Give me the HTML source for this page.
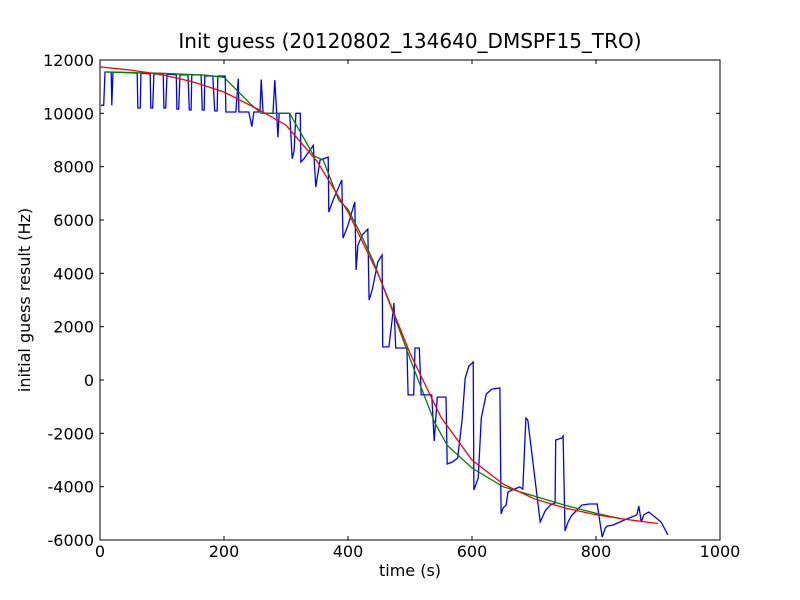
<!DOCTYPE html>
<html><head><meta charset="utf-8"><style>
body{margin:0;background:#fff}
svg{display:block;font-family:"DejaVu Sans","Liberation Sans",sans-serif}
</style></head><body>
<svg id="chart" width="800" height="600"></svg>
<script>
const xTicks=[0,200,400,600,800,1000];
const yTicks=[-6000,-4000,-2000,0,2000,4000,6000,8000,10000,12000];
const blueT=[1.6,6,8,18,19,21,60,61,65,66,81,82,85,87,102,103,106,108,123,124,127,129,142,144,147,148,163,165,168,169,182,185,189,190,202,203,219,223,224,240,245,248,258,260,263,279,282,285,287,289,306,310,313,316,323,324,329,344,348,355,368,369,376,390,392,400,411,413,416,423,432,434,439,448,455,456,466,473,474,477,495,497,506,508,515,518,535,539,544,558,560,568,577,584,589,595,602,603,610,615,623,632,645,647,650,655,658,665,677,682,687,690,710,718,726,734,735,745,747,750,755,760,777,789,802,810,815,818,827,850,866,869,873,877,885,905,916];
const blueV=[10300,10300,11550,11550,10300,11550,11510,10200,10200,11500,11480,10200,10200,11480,11470,10200,10200,11470,11440,10160,10160,11440,11440,10125,10125,11440,11440,10125,10125,11400,11400,10090,10090,11400,11400,10050,10050,11300,10050,10050,9500,10050,10050,11270,10000,10000,11250,10000,9100,10000,10000,8300,8600,10000,10000,8175,8300,8800,7240,8250,8360,6300,6750,7500,5320,5800,6680,4125,5060,5440,5660,3000,3375,4425,4690,1240,1240,2625,2890,1200,1200,-560,-560,1200,1200,-560,-560,-2290,-640,-640,-3150,-3075,-2925,-1500,75,525,675,-4125,-3675,-1425,-525,-340,-300,-5025,-4800,-4690,-4200,-4125,-4010,-4090,-1425,-1500,-5325,-4910,-4690,-4610,-2250,-2175,-2100,-5660,-5325,-5100,-4690,-4650,-4650,-5890,-5550,-5475,-5440,-5210,-5060,-4725,-5325,-5060,-4950,-5325,-5810];
const greenT=[8,100,170,200,245,260,306,345,360,385,400,420,440,470,500,540,560,600,650,700,750,800,840];
const greenV=[11550,11500,11430,11350,10300,10000,10000,8400,8250,6750,6400,5500,4500,2700,800,-1600,-2450,-3300,-4000,-4350,-4700,-5000,-5200];
const redT=[0,50,100,150,200,255,300,350,400,450,500,550,600,650,700,750,800,850,900];
const redV=[11740,11620,11450,11180,10800,10150,9560,8200,6300,3900,1000,-1400,-3000,-3900,-4450,-4800,-5050,-5230,-5380];
const L=100,R=720,T=60,B=540;
const xs=v=>L+(v-0)/1000*(R-L);
const ys=v=>B-(v+6000)/18000*(B-T);
const svg=document.getElementById('chart');
const NS='http://www.w3.org/2000/svg';
function mk(tag,attrs,parent){const e=document.createElementNS(NS,tag);for(const k in attrs)e.setAttribute(k,attrs[k]);(parent||svg).appendChild(e);return e;}
function line(ts,vs,color,name){
  const p=mk('polyline',{points:ts.map((t,i)=>xs(t).toFixed(1)+','+ys(vs[i]).toFixed(1)).join(' '),fill:'none',stroke:color,'stroke-width':1.3});
  
  
}
const bg=mk('rect',{x:L,y:T,width:R-L,height:B-T,fill:'#fff'});


line(blueT,blueV,'#0000ff','blue-series');
line(greenT,greenV,'#008000','green-series');
line(redT,redV,'#ff0000','red-series');
const fr=mk('rect',{x:L,y:T,width:R-L,height:B-T,fill:'none',stroke:'#000','stroke-width':1});


xTicks.forEach(v=>{const x=xs(v);
  mk('line',{x1:x,y1:B,x2:x,y2:B-4,stroke:'#000'});mk('line',{x1:x,y1:T,x2:x,y2:T+4,stroke:'#000'});
  const t=mk('text',{x:x,y:B+17,'text-anchor':'middle','font-size':16});t.textContent=v;
  
  });
yTicks.forEach(v=>{const y=ys(v);
  mk('line',{x1:L,y1:y,x2:L+4,y2:y,stroke:'#000'});mk('line',{x1:R,y1:y,x2:R-4,y2:y,stroke:'#000'});
  const t=mk('text',{x:L-6,y:y+6,'text-anchor':'end','font-size':16});t.textContent=v;
  
  });
const ti=mk('text',{x:410,y:48,'text-anchor':'middle','font-size':20});ti.textContent='Init guess (20120802_134640_DMSPF15_TRO)';


const xl=mk('text',{x:410,y:576,'text-anchor':'middle','font-size':16});xl.textContent='time (s)';


const yl=mk('text',{x:30,y:300,'text-anchor':'middle','font-size':16,transform:'rotate(-90 30 300)'});yl.textContent='initial guess result (Hz)';


</script>
</body></html>
